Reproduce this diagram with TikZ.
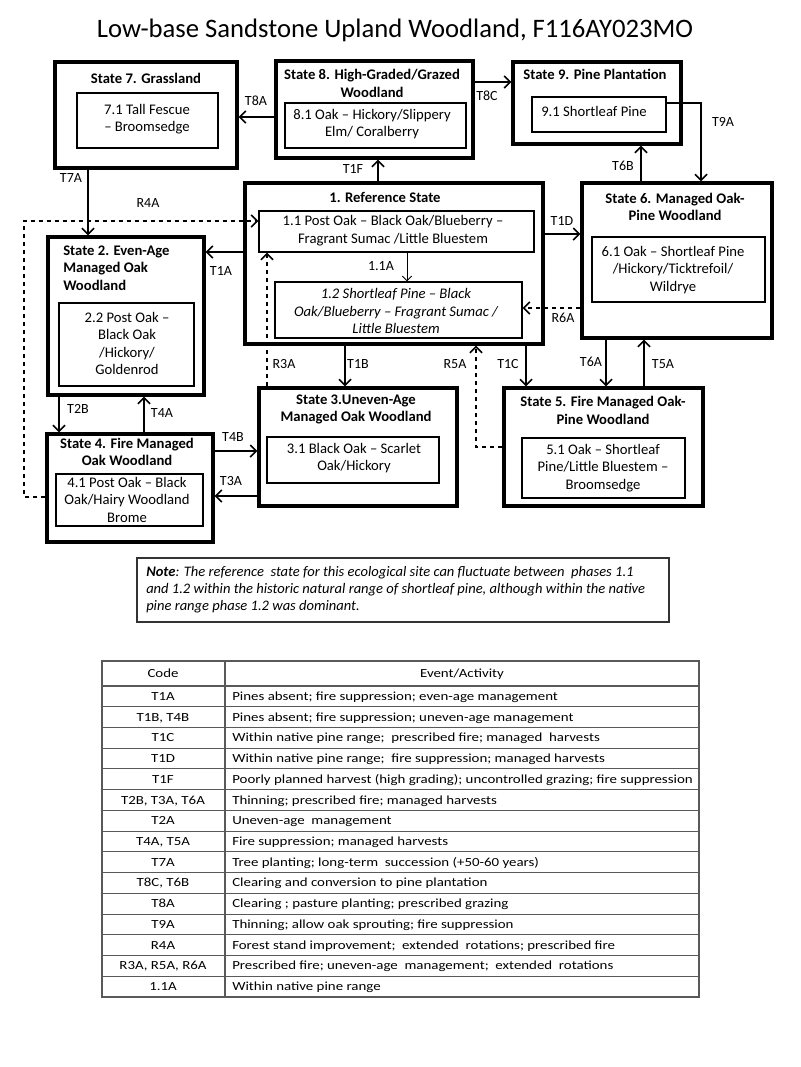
\documentclass[tikz,border=0pt]{standalone}
\usepackage{fontspec}
\setmainfont{Carlito}
\newfontfamily\tabfont[FakeStretch=1.2]{Carlito}
\usetikzlibrary{fit,arrows.meta}
\begin{document}
\begin{tikzpicture}[x=0.75pt,y=-0.75pt,
  outer/.style={draw, line width=2.3pt, inner sep=0pt},
  innerbox/.style={draw, line width=0.8pt, inner sep=0pt},
  txt/.style={align=center, inner sep=0pt, font=\fontsize{11}{13.1}\selectfont},
  ttl/.style={align=center, inner sep=0pt, font=\bfseries\fontsize{11}{13.1}\selectfont},
  lbl/.style={inner sep=0pt, font=\fontsize{10.5}{12}\selectfont},
  arr/.style={line width=1.3pt, -{Straight Barb[length=4.5pt,width=9pt]}},
  thinarr/.style={line width=0.7pt, -{Straight Barb[length=3.5pt,width=7pt]}},
  darr/.style={arr, dash pattern=on 3.5pt off 2.5pt},
  tabline/.style={draw=black!65, line width=0.8pt},
  tabtxt/.style={inner sep=0pt, font=\tabfont\fontsize{9.3}{11}\selectfont}
]
\useasboundingbox[fill=white] (0,0) rectangle (800,1067);

% title
\node[inner sep=0pt, font=\fontsize{20}{24}\selectfont] (title) at (395,30) {Low-base Sandstone Upland Woodland, F116AY023MO};

% State 7
\node[outer, fit={(55,62)(237,168)}] (s7) {};
\node[ttl] (s7t) at (146,78) {State 7. Grassland};
\node[innerbox, fit={(77,93)(218,148)}] (i7) {};
\node[txt] (t7) at (147,119) {7.1 Tall Fescue\\– Broomsedge};

% State 8
\node[outer, fit={(276,61)(473,158)}] (s8) {};
\node[ttl] (s8t) at (372,83.5) {State 8. High-Graded/Grazed\\Woodland};
\node[innerbox, fit={(285,103)(466,148)}] (i8) {};
\node[txt] (t8) at (372,124) {8.1 Oak – Hickory/Slippery\\Elm/ Coralberry};

% State 9
\node[outer, fit={(513,62)(681,144)}] (s9) {};
\node[ttl] (s9t) at (595,74) {State 9. Pine Plantation};
\node[innerbox, fit={(532,97)(666,132)}] (i9) {};
\node[txt] (t9) at (594,111) {9.1 Shortleaf Pine};

% State 1
\node[outer, fit={(245,183)(543,344)}] (s1) {};
\node[ttl] (s1t) at (385,197) {1. Reference State};
\node[innerbox, fit={(259,211)(534,252)}] (i11) {};
\node[txt] (t11) at (393,230.5) {1.1 Post Oak – Black Oak/Blueberry –\\Fragrant Sumac /Little Bluestem};
\node[innerbox, fit={(275,282)(522,338)}] (i12) {};
\node[txt, font=\itshape\fontsize{11}{13.1}\selectfont] (t12) at (396,311) {1.2 Shortleaf Pine – Black\\Oak/Blueberry – Fragrant Sumac /\\Little Bluestem};

% State 6
\node[outer, fit={(582,183)(772,338)}] (s6) {};
\node[ttl] (s6t) at (675,207) {State 6. Managed Oak-\\Pine Woodland};
\node[innerbox, fit={(592,237)(765,302)}] (i6) {};
\node[txt] (t6) at (673,270) {6.1 Oak – Shortleaf Pine\\/Hickory/Ticktrefoil/\\Wildrye};

% State 2
\node[outer, fit={(48,237)(204,395)}] (s2) {};
\node[ttl, align=left, anchor=west] (s2t) at (63,268) {State 2. Even-Age\\Managed Oak\\Woodland};
\node[innerbox, fit={(59,303)(194,386)}] (i2) {};
\node[txt] (t2) at (127,343.5) {2.2 Post Oak –\\Black Oak\\/Hickory/\\Goldenrod};

% State 4
\node[outer, fit={(47,434)(213,542)}] (s4) {};
\node[ttl] (s4t) at (127,452) {State 4. Fire Managed\\Oak Woodland};
\node[innerbox, fit={(56,474)(203,526)}] (i4) {};
\node[txt] (t4) at (127,499.5) {4.1 Post Oak – Black\\Oak/Hairy Woodland\\Brome};

% State 3
\node[outer, fit={(259,388)(457,506)}] (s3) {};
\node[ttl] (s3t) at (356,409.5) {State 3.Uneven-Age\\Managed Oak Woodland};
\node[innerbox, fit={(267,437)(439,483)}] (i3) {};
\node[txt] (t3) at (354,458) {3.1 Black Oak – Scarlet\\Oak/Hickory};

% State 5
\node[outer, fit={(504,388)(703,506)}] (s5) {};
\node[ttl] (s5t) at (603,410.5) {State 5. Fire Managed Oak-\\Pine Woodland};
\node[innerbox, fit={(522,438)(685,498)}] (i5) {};
\node[txt] (t5) at (603,468) {5.1 Oak – Shortleaf\\Pine/Little Bluestem –\\Broomsedge};

% connectors
\draw[arr] (s8.west |- 0,117) -- (s7.east |- 0,117);
\draw[arr] (s8.east |- 0,82) -- (s9.west |- 0,82);
\draw[arr] (i9.east |- 0,103) -| (s6.north -| 701,0);
\draw[arr] (s6.north -| 641,0) -- (s9.south -| 641,0);
\draw[arr] (s1.north -| 378,0) -- (s8.south -| 378,0);
\draw[arr] (s7.south -| 88,0) -- (s2.north -| 88,0);
\draw[arr] (s1.west |- 0,252) -- (s2.east |- 0,252);
\draw[arr] (s1.east |- 0,234) -- (s6.west |- 0,234);
\draw[thinarr] (i11.south -| 407,0) -- (i12.north -| 407,0);
\draw[darr] (s6.west |- 0,308) -- (i12.east |- 0,308);
\coordinate (r4corner) at (24,221);
\draw[darr] (s4.west |- 0,497) -| (r4corner) -- (i11.west |- 0,221);
\draw[darr] (s3.north -| 267,0) -- (i11.south -| 267,0);
\draw[arr] (s1.south -| 345,0) -- (s3.north -| 345,0);
\draw[darr] (s5.west |- 0,447) -| (s1.south -| 476,0);
\draw[arr] (s1.south -| 526,0) -- (s5.north -| 526,0);
\draw[arr] (s6.south -| 606,0) -- (s5.north -| 606,0);
\draw[arr] (s5.north -| 644,0) -- (s6.south -| 644,0);
\draw[arr] (s2.south -| 59,0) -- (s4.north -| 59,0);
\draw[arr] (s4.north -| 144,0) -- (s2.south -| 144,0);
\draw[arr] (s4.east |- 0,451) -- (s3.west |- 0,451);
\draw[arr] (s3.west |- 0,496) -- (s4.east |- 0,496);

% connector labels
\node[lbl] (lT8A) at (256,101) {T8A};
\node[lbl] (lT8C) at (487,96) {T8C};
\node[lbl] (lT9A) at (723,122) {T9A};
\node[lbl] (lT6B) at (623,166) {T6B};
\node[lbl] (lT1F) at (353,169) {T1F};
\node[lbl] (lT7A) at (71,178) {T7A};
\node[lbl] (lR4A) at (148,203) {R4A};
\node[lbl] (lT1D) at (562,221) {T1D};
\node[lbl] (lT1A) at (221,271) {T1A};
\node[lbl] (l11A) at (381,266) {1.1A};
\node[lbl] (lR6A) at (563,318) {R6A};
\node[lbl] (lR3A) at (284,364) {R3A};
\node[lbl] (lT1B) at (358,364) {T1B};
\node[lbl] (lR5A) at (455,364) {R5A};
\node[lbl] (lT1C) at (508,364) {T1C};
\node[lbl] (lT6A) at (591,362) {T6A};
\node[lbl] (lT5A) at (663,364) {T5A};
\node[lbl] (lT2B) at (78,409) {T2B};
\node[lbl] (lT4A) at (162,413) {T4A};
\node[lbl] (lT4B) at (233,437) {T4B};
\node[lbl] (lT3A) at (231,481) {T3A};

% note
\node[draw=black!80, line width=1pt, inner sep=0pt, fit={(137,558)(669,622)}] (note) {};
\node[inner sep=0pt, align=left, anchor=west, font=\itshape\fontsize{10.9}{12.75}\selectfont] (notetext) at (146,590)
 {\textbf{Note}: The reference\ \ state for this ecological site can fluctuate between\ \ phases 1.1\\and 1.2 within the historic natural range of shortleaf pine, although within the native\\pine range phase 1.2 was dominant.};

% table
\node[tabline, inner sep=0pt, fit={(102,661)(699,997)}] (table) {};
\draw[tabline] (table.north -| 225,0) -- (table.south -| 225,0);
\draw[tabline] (table.west |- 0,686) -- (table.east |- 0,686);
\foreach \k in {1,...,14} {
  \draw[tabline] (table.west |- 0,{686+20.73*\k}) -- (table.east |- 0,{686+20.73*\k});
}
\node[tabtxt, anchor=base] (hcode) at (163,677.5) {Code};
\node[tabtxt, anchor=base] (hevent) at (462,677.5) {Event/Activity};
\foreach \c/\e [count=\i from 0] in {
  {T1A}/{Pines absent; fire suppression; even-age management},
  {T1B, T4B}/{Pines absent; fire suppression; uneven-age management},
  {T1C}/{Within native pine range;\ \ prescribed fire; managed\ \ harvests},
  {T1D}/{Within native pine range;\ \ fire suppression; managed harvests},
  {T1F}/{Poorly planned harvest (high grading); uncontrolled grazing; fire suppression},
  {T2B, T3A, T6A}/{Thinning; prescribed fire; managed harvests},
  {T2A}/{Uneven-age\ \ management},
  {T4A, T5A}/{Fire suppression; managed harvests},
  {T7A}/{Tree planting; long-term\ \ succession (+50-60 years)},
  {T8C, T6B}/{Clearing and conversion to pine plantation},
  {T8A}/{Clearing ; pasture planting; prescribed grazing},
  {T9A}/{Thinning; allow oak sprouting; fire suppression},
  {R4A}/{Forest stand improvement;\ \ extended\ \ rotations; prescribed fire},
  {R3A, R5A, R6A}/{Prescribed fire; uneven-age\ \ management;\ \ extended\ \ rotations},
  {1.1A}/{Within native pine range}} {
  \node[tabtxt, anchor=base] (code\i) at (163,{686+20.73*(\i+0.5)+4}) {\c};
  \node[tabtxt, anchor=base west] (ev\i) at (232,{686+20.73*(\i+0.5)+4}) {\e};
}
\end{tikzpicture}
\end{document}
